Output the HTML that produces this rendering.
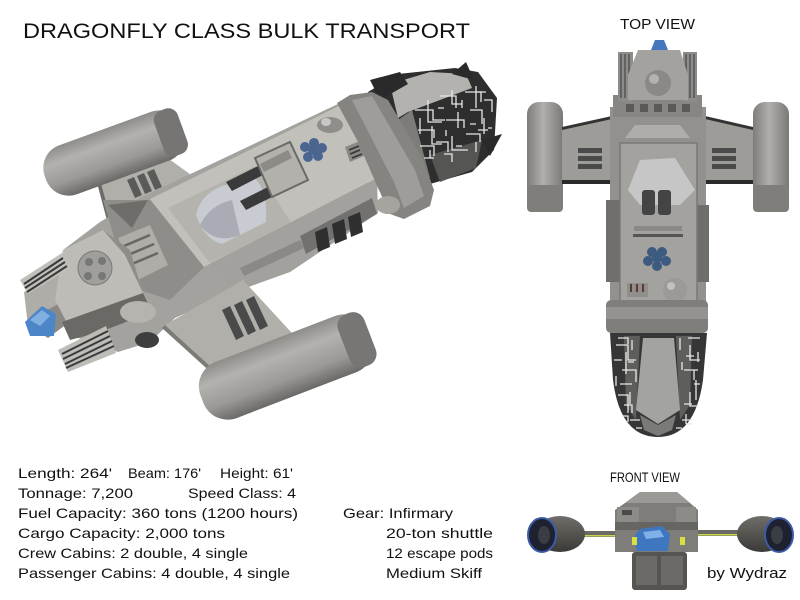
<!DOCTYPE html>
<html><head><meta charset="utf-8"><style>
html,body{margin:0;padding:0;background:#fff;}
svg{display:block}
text{font-family:"Liberation Sans",sans-serif;fill:#111;}
</style></head><body>
<svg width="800" height="600" viewBox="0 0 800 600" xmlns="http://www.w3.org/2000/svg">
<defs>
<linearGradient id="nac" x1="0" y1="0" x2="0" y2="1">
 <stop offset="0" stop-color="#8e8d8a"/>
 <stop offset="0.3" stop-color="#b3b2ae"/>
 <stop offset="0.7" stop-color="#9a9995"/>
 <stop offset="1" stop-color="#6a6967"/>
</linearGradient>
<linearGradient id="tnac" x1="0" y1="0" x2="1" y2="0">
 <stop offset="0" stop-color="#7e7d7a"/>
 <stop offset="0.45" stop-color="#b0afab"/>
 <stop offset="1" stop-color="#7a7976"/>
</linearGradient>
<linearGradient id="fnac" x1="0" y1="0" x2="0" y2="1">
 <stop offset="0" stop-color="#6f6e6b"/>
 <stop offset="0.5" stop-color="#55544f"/>
 <stop offset="1" stop-color="#3a3a38"/>
</linearGradient>
</defs>

<!-- TITLE -->
<text x="23" y="38" font-size="21" textLength="447" lengthAdjust="spacingAndGlyphs">DRAGONFLY CLASS BULK TRANSPORT</text>
<text x="620" y="29" font-size="15" textLength="75" lengthAdjust="spacingAndGlyphs">TOP VIEW</text>
<text x="610" y="482" font-size="14" textLength="70" lengthAdjust="spacingAndGlyphs">FRONT VIEW</text>

<!-- ============ MAIN PERSPECTIVE SHIP ============ -->
<polygon points="95,175 158,151 198,180 204,226 108,224" fill="#b0afaa"/>
<polygon points="95,175 108,224 112,224 99,176" fill="#6d6c68"/>
<polygon points="127,180 134,177 142,195 135,198" fill="#5a5a58"/>
<polygon points="137,176 144,173 152,191 145,194" fill="#5a5a58"/>
<polygon points="147,172 154,169 162,187 155,190" fill="#5a5a58"/>
<g transform="translate(114,153) rotate(-20)">
 <rect x="-73" y="-26" width="146" height="52" rx="24" fill="url(#nac)"/>
 <rect x="48" y="-24" width="25" height="48" rx="10" fill="#767573"/>
</g>
<!-- engine cone -->
<polygon points="368,92 398,74 455,68 478,72 497,98 494,150 472,172 430,184 398,172" fill="#2e2e2e"/>
<polygon points="390,84 430,72 466,74 472,88 440,100 408,112 398,118" fill="#b3b2ae"/>
<polygon points="398,120 412,110 430,178 412,172" fill="#7d7c79"/>
<polygon points="430,155 482,140 476,168 440,182" fill="#555553"/>
<polygon points="370,80 400,72 408,84 380,100" fill="#2a2a2a"/>
<polygon points="452,74 466,62 474,80" fill="#2a2a2a"/>
<polygon points="482,140 502,134 490,156" fill="#2a2a2a"/>
<g stroke="#e6e6e6" stroke-width="1.3" fill="none">
<path d="M415,110 h18 v10 h12 M428,100 v22 h14 M440,96 h16 v12 M452,90 v14 h10 M465,92 h16 v10 M476,86 v22 M484,100 h8 v12"/>
<path d="M418,130 h16 v8 M432,126 v18 h10 M446,120 h18 v8 M458,112 v16 M470,110 h12 v14 M484,118 v16 M478,130 h10"/>
<path d="M420,146 h14 v10 M436,142 h12 v10 M452,136 v14 h10 M466,134 h14 v8 M476,142 v10 M424,158 h10 M444,154 h8 v8 M460,150 h8"/>
<path d="M420,118 v16 M438,108 h6 M462,100 v8 M488,128 h4 M430,150 v8 M470,124 h6 M478,92 h8 M446,130 v6 M456,146 h6"/>
</g>
<!-- hull base -->
<polygon points="63,250 100,222 140,198 340,103 378,212 290,272 245,286 175,318 150,342 118,352 70,335 55,300" fill="#a3a29e"/>
<polygon points="24,292 62,272 68,323 48,338 28,326" fill="#aeada8"/>
<polygon points="28,320 66,300 68,323 48,338" fill="#8a8985"/>
<polygon points="103,200 150,200 204,267 170,300 140,290 115,240" fill="#8e8d89"/>
<polygon points="108,205 148,200 132,228" fill="#6e6d69"/>
<polygon points="118,238 150,225 168,265 138,280" fill="#aeada8"/>
<path d="M124,246 l26,-11 M128,255 l26,-11 M132,264 l26,-11" stroke="#666664" stroke-width="2.5"/>
<!-- top deck -->
<polygon points="150,199 339,106 377,178 204,267" fill="#c1c0bb"/>
<polygon points="168,208 255,166 292,224 210,263" fill="#b4b3ae"/>
<path d="M196,215 Q200,195 222,186 L255,178 Q268,192 266,222 L222,244 Q205,240 196,215Z" fill="#c8cbd2"/>
<path d="M200,225 Q210,205 232,200 L240,235 Q215,245 200,225Z" fill="#a9acb4"/>
<polygon points="226,182 258,166 263,175 232,191" fill="#3a3a3a"/>
<polygon points="240,201 270,186 276,195 246,210" fill="#3a3a3a"/>
<polygon points="255,158 290,142 308,180 272,197" fill="#b2b1ac" stroke="#6a6a68" stroke-width="2"/>
<polygon points="260,164 288,150 292,158 264,172" fill="#8c8b87"/>
<ellipse cx="330" cy="125" rx="13" ry="8" fill="#8f8e8a"/>
<ellipse cx="326" cy="122" rx="5" ry="4" fill="#c8c7c3"/>
<g fill="#4a6690">
 <circle cx="305" cy="147" r="5"/><circle cx="314" cy="143" r="5"/><circle cx="322" cy="148" r="5"/>
 <circle cx="318" cy="156" r="5"/><circle cx="308" cy="157" r="5"/><circle cx="313" cy="150" r="5"/>
</g>
<polygon points="345,147 360,141 366,155 350,162" fill="#8a8985"/>
<path d="M349,150 l10,-4 M350,154 l10,-4 M352,158 l10,-4" stroke="#333" stroke-width="1.5"/>
<!-- side -->
<polygon points="204,267 377,178 378,213 290,272 240,290" fill="#a2a19d"/>
<polygon points="300,236 372,198 377,214 306,254" fill="#727170"/>
<polygon points="240,268 300,240 304,248 244,276" fill="#8a8985"/>
<polygon points="315,232 327,227 330,247 318,252" fill="#2f2f2f"/>
<polygon points="332,224 344,219 347,239 335,244" fill="#2f2f2f"/>
<polygon points="348,217 360,212 363,232 351,237" fill="#2f2f2f"/>
<!-- ring -->
<polygon points="337,103 350,95 372,92 388,100 422,158 434,190 430,206 404,219 390,214 378,188 358,142" fill="#858481"/>
<polygon points="352,100 372,96 415,170 424,196 404,208 394,182" fill="#9e9d99"/>
<ellipse cx="388" cy="205" rx="12" ry="9" fill="#a5a49f"/>
<!-- head block -->
<polygon points="63,250 103,230 130,250 143,293 67,323 55,300" fill="#bdbcb7"/>
<polygon points="103,230 130,250 143,293 125,255" fill="#8e8d89"/>
<circle cx="95" cy="268" r="17" fill="#a09f9b"/>
<circle cx="95" cy="268" r="17" fill="none" stroke="#7a7976" stroke-width="1"/>
<circle cx="89" cy="262" r="4" fill="#777"/><circle cx="102" cy="261" r="4" fill="#777"/>
<circle cx="88" cy="276" r="4" fill="#777"/><circle cx="102" cy="276" r="4" fill="#777"/>
<polygon points="62,322 143,293 152,312 100,332 70,340" fill="#6a6965"/>
<ellipse cx="138" cy="312" rx="18" ry="11" fill="#b5b4af"/>
<ellipse cx="147" cy="340" rx="12" ry="8" fill="#3e3e3e"/>
<polygon points="20,280 62,253 70,268 28,294" fill="#c0bfba"/>
<path d="M24,284 L63,258 M25,288 L65,262 M27,292 L67,266" stroke="#3a3a3a" stroke-width="2"/>
<polygon points="58,350 106,326 116,353 68,372" fill="#bdbcb7"/>
<path d="M62,354 L108,331 M63,359 L110,336 M65,364 L112,341 M66,368 L114,346" stroke="#3a3a3a" stroke-width="2"/>
<polygon points="25,322 42,306 56,314 54,336 30,336" fill="#4d86c8"/>
<polygon points="30,320 42,310 50,316 40,326" fill="#7fb0e0"/>
<!-- lower wing -->
<polygon points="165,325 243,280 302,344 232,386" fill="#b0afaa"/>
<polygon points="165,325 232,386 226,386 162,328" fill="#7c7b77"/>
<polygon points="222,310 230,306 244,336 236,340" fill="#4a4a4a"/>
<polygon points="234,305 242,301 256,331 248,335" fill="#4a4a4a"/>
<polygon points="246,300 254,296 268,326 260,330" fill="#4a4a4a"/>
<g transform="translate(286,367) rotate(-21)">
 <rect x="-90" y="-30" width="180" height="60" rx="26" fill="url(#nac)"/>
 <rect x="62" y="-28" width="28" height="56" rx="12" fill="#777674"/>
</g>

<!-- ============ TOP VIEW ============ -->
<rect x="527" y="102" width="36" height="110" rx="12" fill="url(#tnac)"/>
<rect x="527" y="185" width="36" height="27" rx="4" fill="#7f7e7b"/>
<rect x="753" y="102" width="36" height="110" rx="12" fill="url(#tnac)"/>
<rect x="753" y="185" width="36" height="27" rx="4" fill="#7f7e7b"/>
<polygon points="562,128 612,117 612,183 562,183" fill="#9d9c98"/>
<polygon points="562,127 612,116 612,119 562,130" fill="#333"/>
<rect x="562" y="180" width="50" height="4" fill="#2a2a2a"/>
<rect x="578" y="148" width="24" height="5" fill="#4a4a4a"/>
<rect x="578" y="156" width="24" height="5" fill="#4a4a4a"/>
<rect x="578" y="164" width="24" height="5" fill="#4a4a4a"/>
<polygon points="705,117 753,128 753,183 705,183" fill="#9d9c98"/>
<polygon points="705,116 753,127 753,130 705,119" fill="#333"/>
<rect x="705" y="180" width="48" height="4" fill="#2a2a2a"/>
<rect x="712" y="148" width="24" height="5" fill="#4a4a4a"/>
<rect x="712" y="156" width="24" height="5" fill="#4a4a4a"/>
<rect x="712" y="164" width="24" height="5" fill="#4a4a4a"/>
<rect x="610" y="107" width="96" height="198" fill="#929190"/>
<rect x="606" y="200" width="14" height="82" fill="#6f6e6a"/>
<rect x="697" y="205" width="12" height="77" fill="#6f6e6a"/>
<polygon points="635,125 680,125 690,138 625,138" fill="#aeadaa"/>
<rect x="620" y="143" width="77" height="160" fill="#a3a29e" stroke="#7a7976" stroke-width="1.5"/>
<polygon points="640,160 675,158 695,190 680,205 640,205 628,190" fill="#c6c6c6"/>
<rect x="642" y="190" width="13" height="25" rx="3" fill="#444"/>
<rect x="658" y="190" width="13" height="25" rx="3" fill="#444"/>
<rect x="633" y="234" width="50" height="3" fill="#555"/>
<rect x="634" y="226" width="48" height="5" fill="#8a8986"/>
<g fill="#3d5a80">
 <circle cx="652" cy="252" r="5"/><circle cx="662" cy="252" r="5"/><circle cx="648" cy="261" r="5"/>
 <circle cx="666" cy="261" r="5"/><circle cx="657" cy="266" r="5"/><circle cx="657" cy="258" r="5"/>
</g>
<circle cx="675" cy="290" r="12" fill="#9b9a97"/>
<circle cx="671" cy="286" r="4" fill="#c2c1bd"/>
<rect x="627" y="283" width="21" height="14" fill="#8f8e8a"/>
<path d="M631,284 v8 M637,284 v8 M643,284 v8" stroke="#5a3a30" stroke-width="2"/>
<rect x="613" y="95" width="89" height="22" fill="#878682"/>
<g fill="#5a5956"><rect x="626" y="104" width="8" height="8"/><rect x="640" y="104" width="8" height="8"/><rect x="654" y="104" width="8" height="8"/><rect x="668" y="104" width="8" height="8"/><rect x="682" y="104" width="8" height="8"/></g>
<rect x="618" y="52" width="15" height="50" fill="#8d8c88"/>
<path d="M621,54 v44 M625,54 v44 M629,54 v44" stroke="#555" stroke-width="1.5"/>
<rect x="683" y="52" width="14" height="50" fill="#8d8c88"/>
<path d="M686,54 v44 M690,54 v44 M694,54 v44" stroke="#555" stroke-width="1.5"/>
<polygon points="638,50 680,50 688,75 688,100 628,100 628,75" fill="#a3a29e"/>
<circle cx="658" cy="83" r="13" fill="#8a8986"/>
<circle cx="654" cy="79" r="5" fill="#b3b2ae"/>
<polygon points="651,50 655,40 664,40 668,50" fill="#4477bb"/>
<rect x="606" y="300" width="102" height="33" rx="5" fill="#7f7e7a"/>
<rect x="606" y="307" width="102" height="12" fill="#94938f"/>
<!-- top engine -->
<path d="M610,333 L707,333 L703,380 Q695,437 658,437 Q620,437 613,380 Z" fill="#363636"/>
<path d="M624,336 L640,336 L636,420 L626,405 Z" fill="#5e5e5c"/>
<path d="M676,336 L692,336 L690,405 L680,420 Z" fill="#5e5e5c"/>
<path d="M643,338 L674,338 L680,410 L658,424 L636,410 Z" fill="#a3a3a0"/>
<path d="M640,415 L658,425 L676,415 L672,430 L658,436 L644,430Z" fill="#7a7a78"/>
<g stroke="#e8e8e8" stroke-width="1.3" fill="none">
<path d="M616,345 h12 v15 h8 M622,370 h14 v12 M618,395 h10 v18 M630,420 h10 M690,345 v15 h10 M684,370 h14 M690,392 v14 h8 M682,420 h10 M626,352 v22 M696,380 v20 M620,384 h12 M686,356 h8"/>
<path d="M614,360 h8 M632,340 v10 M624,405 h8 v8 M680,338 v12 M694,370 v10 M684,404 h8 M636,428 h6 M676,428 h6"/>
<path d="M618,338 h10 v6 M628,362 h6 M616,376 v10 M630,392 v12 M622,416 h6 v6 M688,338 h12 M698,352 v10 M682,362 v8 M700,384 h-6 M686,414 v10 M692,424 h-6"/>
</g>

<!-- ============ FRONT VIEW ============ -->
<rect x="575" y="531" width="43" height="6" fill="#6a6a66"/>
<rect x="575" y="535" width="43" height="1.5" fill="#c9d44a"/>
<rect x="698" y="530" width="47" height="6" fill="#6a6a66"/>
<rect x="698" y="534" width="47" height="1.5" fill="#c9d44a"/>
<ellipse cx="560" cy="534" rx="25" ry="18" fill="url(#fnac)"/>
<ellipse cx="542" cy="535" rx="14" ry="17" fill="#1e2230" stroke="#3d5aa8" stroke-width="2"/>
<ellipse cx="544" cy="535" rx="6" ry="9" fill="#3a3d44"/>
<ellipse cx="762" cy="534" rx="25" ry="18" fill="url(#fnac)"/>
<ellipse cx="779" cy="535" rx="14" ry="17" fill="#1e2230" stroke="#3d5aa8" stroke-width="2"/>
<ellipse cx="777" cy="535" rx="6" ry="9" fill="#3a3d44"/>
<polygon points="640,492 677,492 690,503 698,510 698,552 615,552 615,510 625,503" fill="#7e7d79"/>
<polygon points="640,492 677,492 690,503 625,503" fill="#9a9995"/>
<rect x="617" y="507" width="22" height="15" fill="#8c8b87"/>
<rect x="676" y="507" width="20" height="15" fill="#8c8b87"/>
<rect x="622" y="510" width="10" height="5" fill="#4a4a48"/>
<polygon points="615,522 698,522 698,530 615,530" fill="#666561"/>
<polygon points="640,529 662,526 670,534 668,551 637,551 633,538" fill="#3f76c0"/>
<polygon points="643,532 660,530 664,537 646,539" fill="#7fb0e8"/>
<rect x="632" y="537" width="5" height="8" fill="#d8e040"/>
<rect x="680" y="537" width="5" height="8" fill="#d8e040"/>
<rect x="632" y="552" width="55" height="38" rx="3" fill="#555450"/>
<rect x="636" y="556" width="21" height="29" fill="#6b6a66"/>
<rect x="661" y="556" width="22" height="29" fill="#6b6a66"/>

<!-- SPECS -->
<g font-size="14">
<text x="18" y="478" textLength="94" lengthAdjust="spacingAndGlyphs">Length: 264'</text>
<text x="128" y="478" textLength="73" lengthAdjust="spacingAndGlyphs">Beam: 176'</text>
<text x="220" y="478" textLength="73" lengthAdjust="spacingAndGlyphs">Height: 61'</text>
<text x="18" y="498" textLength="115" lengthAdjust="spacingAndGlyphs">Tonnage: 7,200</text>
<text x="188" y="498" textLength="108" lengthAdjust="spacingAndGlyphs">Speed Class: 4</text>
<text x="18" y="518" textLength="280" lengthAdjust="spacingAndGlyphs">Fuel Capacity: 360 tons (1200 hours)</text>
<text x="343" y="518" textLength="110" lengthAdjust="spacingAndGlyphs">Gear: Infirmary</text>
<text x="18" y="538" textLength="207" lengthAdjust="spacingAndGlyphs">Cargo Capacity: 2,000 tons</text>
<text x="386" y="538" textLength="107" lengthAdjust="spacingAndGlyphs">20-ton shuttle</text>
<text x="18" y="558" textLength="230" lengthAdjust="spacingAndGlyphs">Crew Cabins: 2 double, 4 single</text>
<text x="386" y="558" textLength="107" lengthAdjust="spacingAndGlyphs">12 escape pods</text>
<text x="18" y="578" textLength="272" lengthAdjust="spacingAndGlyphs">Passenger Cabins: 4 double, 4 single</text>
<text x="386" y="578" textLength="96" lengthAdjust="spacingAndGlyphs">Medium Skiff</text>
</g>
<text x="707" y="578" font-size="15" textLength="80" lengthAdjust="spacingAndGlyphs">by Wydraz</text>
</svg>
</body></html>
